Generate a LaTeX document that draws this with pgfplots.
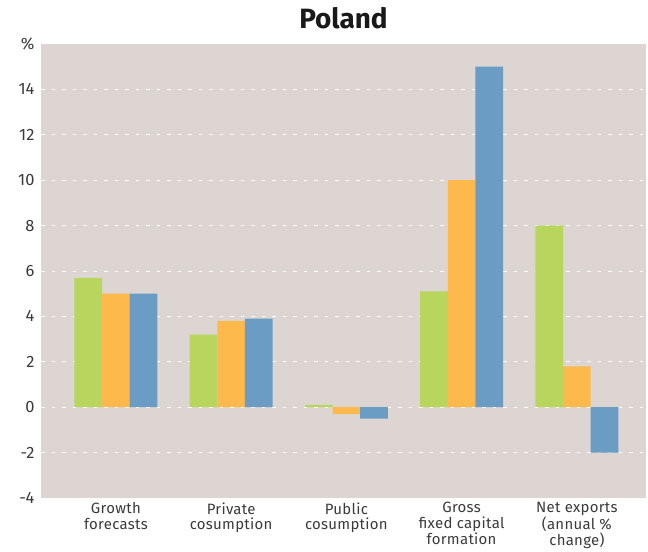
\documentclass[border=0pt]{standalone}
\usepackage{pgfplots}
\pgfplotsset{compat=1.18}
\usepackage{fontspec}
\setmainfont{Fira Sans}
\definecolor{bg}{HTML}{DCD5D2}
\definecolor{cg}{HTML}{B8D65E}
\definecolor{co}{HTML}{FDB94B}
\definecolor{cb}{HTML}{6A9CC4}
\definecolor{txt}{HTML}{3A3A3A}
\begin{document}
\begin{tikzpicture}
\begin{axis}[
 name=ax,
 scale only axis, width=605bp, height=454bp,
 xmin=-0.65, xmax=4.6, ymin=-4, ymax=16,
 ybar=0pt, bar width=0.24,
 axis background/.style={fill=bg},
 axis line style={draw=none},
 major tick length=0,
 xtick={0,...,4},
 xticklabels={{Growth\\forecasts},{Private\\cosumption},{Public\\cosumption},{Gross\\fixed capital\\formation},{Net exports\\(annual \%\\change)}},
 xticklabel style={align=center, font=\fontsize{15}{15.7}\selectfont\addfontfeatures{LetterSpace=2}, text=txt, anchor=north, yshift=-1bp},
 ytick={-2,0,...,14},
 extra y ticks={-4,16}, extra y tick labels={-4,\%}, extra y tick style={grid=none},
 ymajorgrids, grid style={white, dash pattern=on 3.5bp off 7bp, line width=0.9bp},
 yticklabel style={font=\fontsize{16.5}{18}\selectfont, text=txt, xshift=-3bp},
 /pgf/number format/assume math mode=true,
 title={Poland},
 title style={font=\fontsize{28}{30}\selectfont\bfseries, text=black!90, at={(0.5,1)}, anchor=base, yshift=10bp},
]
\addplot[fill=cg, draw=none] coordinates {(0,5.7) (1,3.2) (2,0.1) (3,5.1) (4,8.0)};
\addplot[fill=co, draw=none] coordinates {(0,5.0) (1,3.8) (2,-0.3) (3,10.0) (4,1.8)};
\addplot[fill=cb, draw=none] coordinates {(0,5.0) (1,3.9) (2,-0.5) (3,15.0) (4,-2.0)};
\end{axis}
\path ([xshift=-41bp,yshift=-51bp]ax.south west) ([xshift=2bp,yshift=44bp]ax.north east);
\end{tikzpicture}
\end{document}
